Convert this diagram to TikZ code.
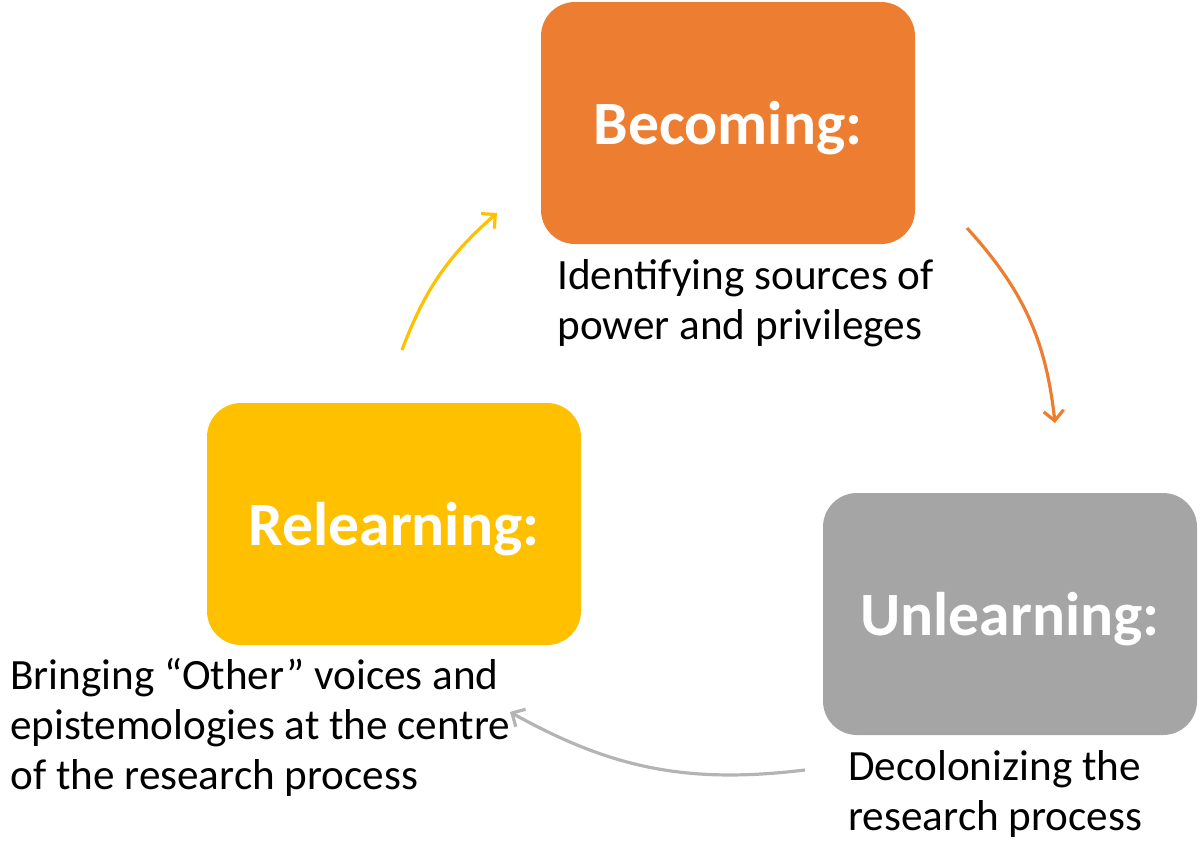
\documentclass[tikz,border=0pt]{standalone}
\usepackage{fontspec}
\setmainfont{Carlito}
\usetikzlibrary{arrows.meta}
\usetikzlibrary{positioning}

\definecolor{becomeorange}{HTML}{ED7D31}
\definecolor{relearnyellow}{HTML}{FFC000}
\definecolor{unlearngray}{HTML}{A5A5A5}
\definecolor{arrowgray}{HTML}{B4B4B4}

\tikzset{
    stage/.style={rounded corners=17pt,minimum width=187pt,minimum height=121pt,
        inner sep=0pt,text depth=0pt,text=white,font=\fontsize{30.8}{36}\selectfont\bfseries},
    note/.style={align=left,anchor=base west,inner sep=0pt,
        font=\fontsize{21.6}{25}\selectfont},
    cycle/.style={line width=1.6pt,-{Straight Barb[length=5pt,width=10pt]},bend left=18},
}

\begin{document}
\begin{tikzpicture}[x=0.5pt,y=-0.5pt]
    \useasboundingbox (0,0) rectangle (1200,842);
    \node[stage,fill=becomeorange] (becoming) at (728,123) {Becoming:};
    \node[stage,fill=relearnyellow] (relearning) at (394,524) {Relearning:};
    \node[stage,fill=unlearngray] (unlearning) at (1010,614) {Unlearning:};

    % notes sit on the baseline of their last line
    \node[note] (becomingnote) at (557,339) {Identifying sources of\\power and privileges};
    \node[note] (relearningnote) at (10,789) {Bringing “Other” voices and\\epistemologies at the centre\\of the research process};
    \node[note] (unlearningnote) at (848,830) {Decolonizing the\\research process};

    \path (402,350) coordinate (y1) (497,213) coordinate (y2)
    (967,228) coordinate (o1) (1055,423) coordinate (o2)
    (805,770) coordinate (g1) (510,712) coordinate (g2);
    \draw[cycle,relearnyellow] (y1) to[bend left=14] (y2);
    \draw[cycle,becomeorange] (o1) to (o2);
    \draw[cycle,arrowgray] (g1) to (g2);
\end{tikzpicture}
\end{document}
